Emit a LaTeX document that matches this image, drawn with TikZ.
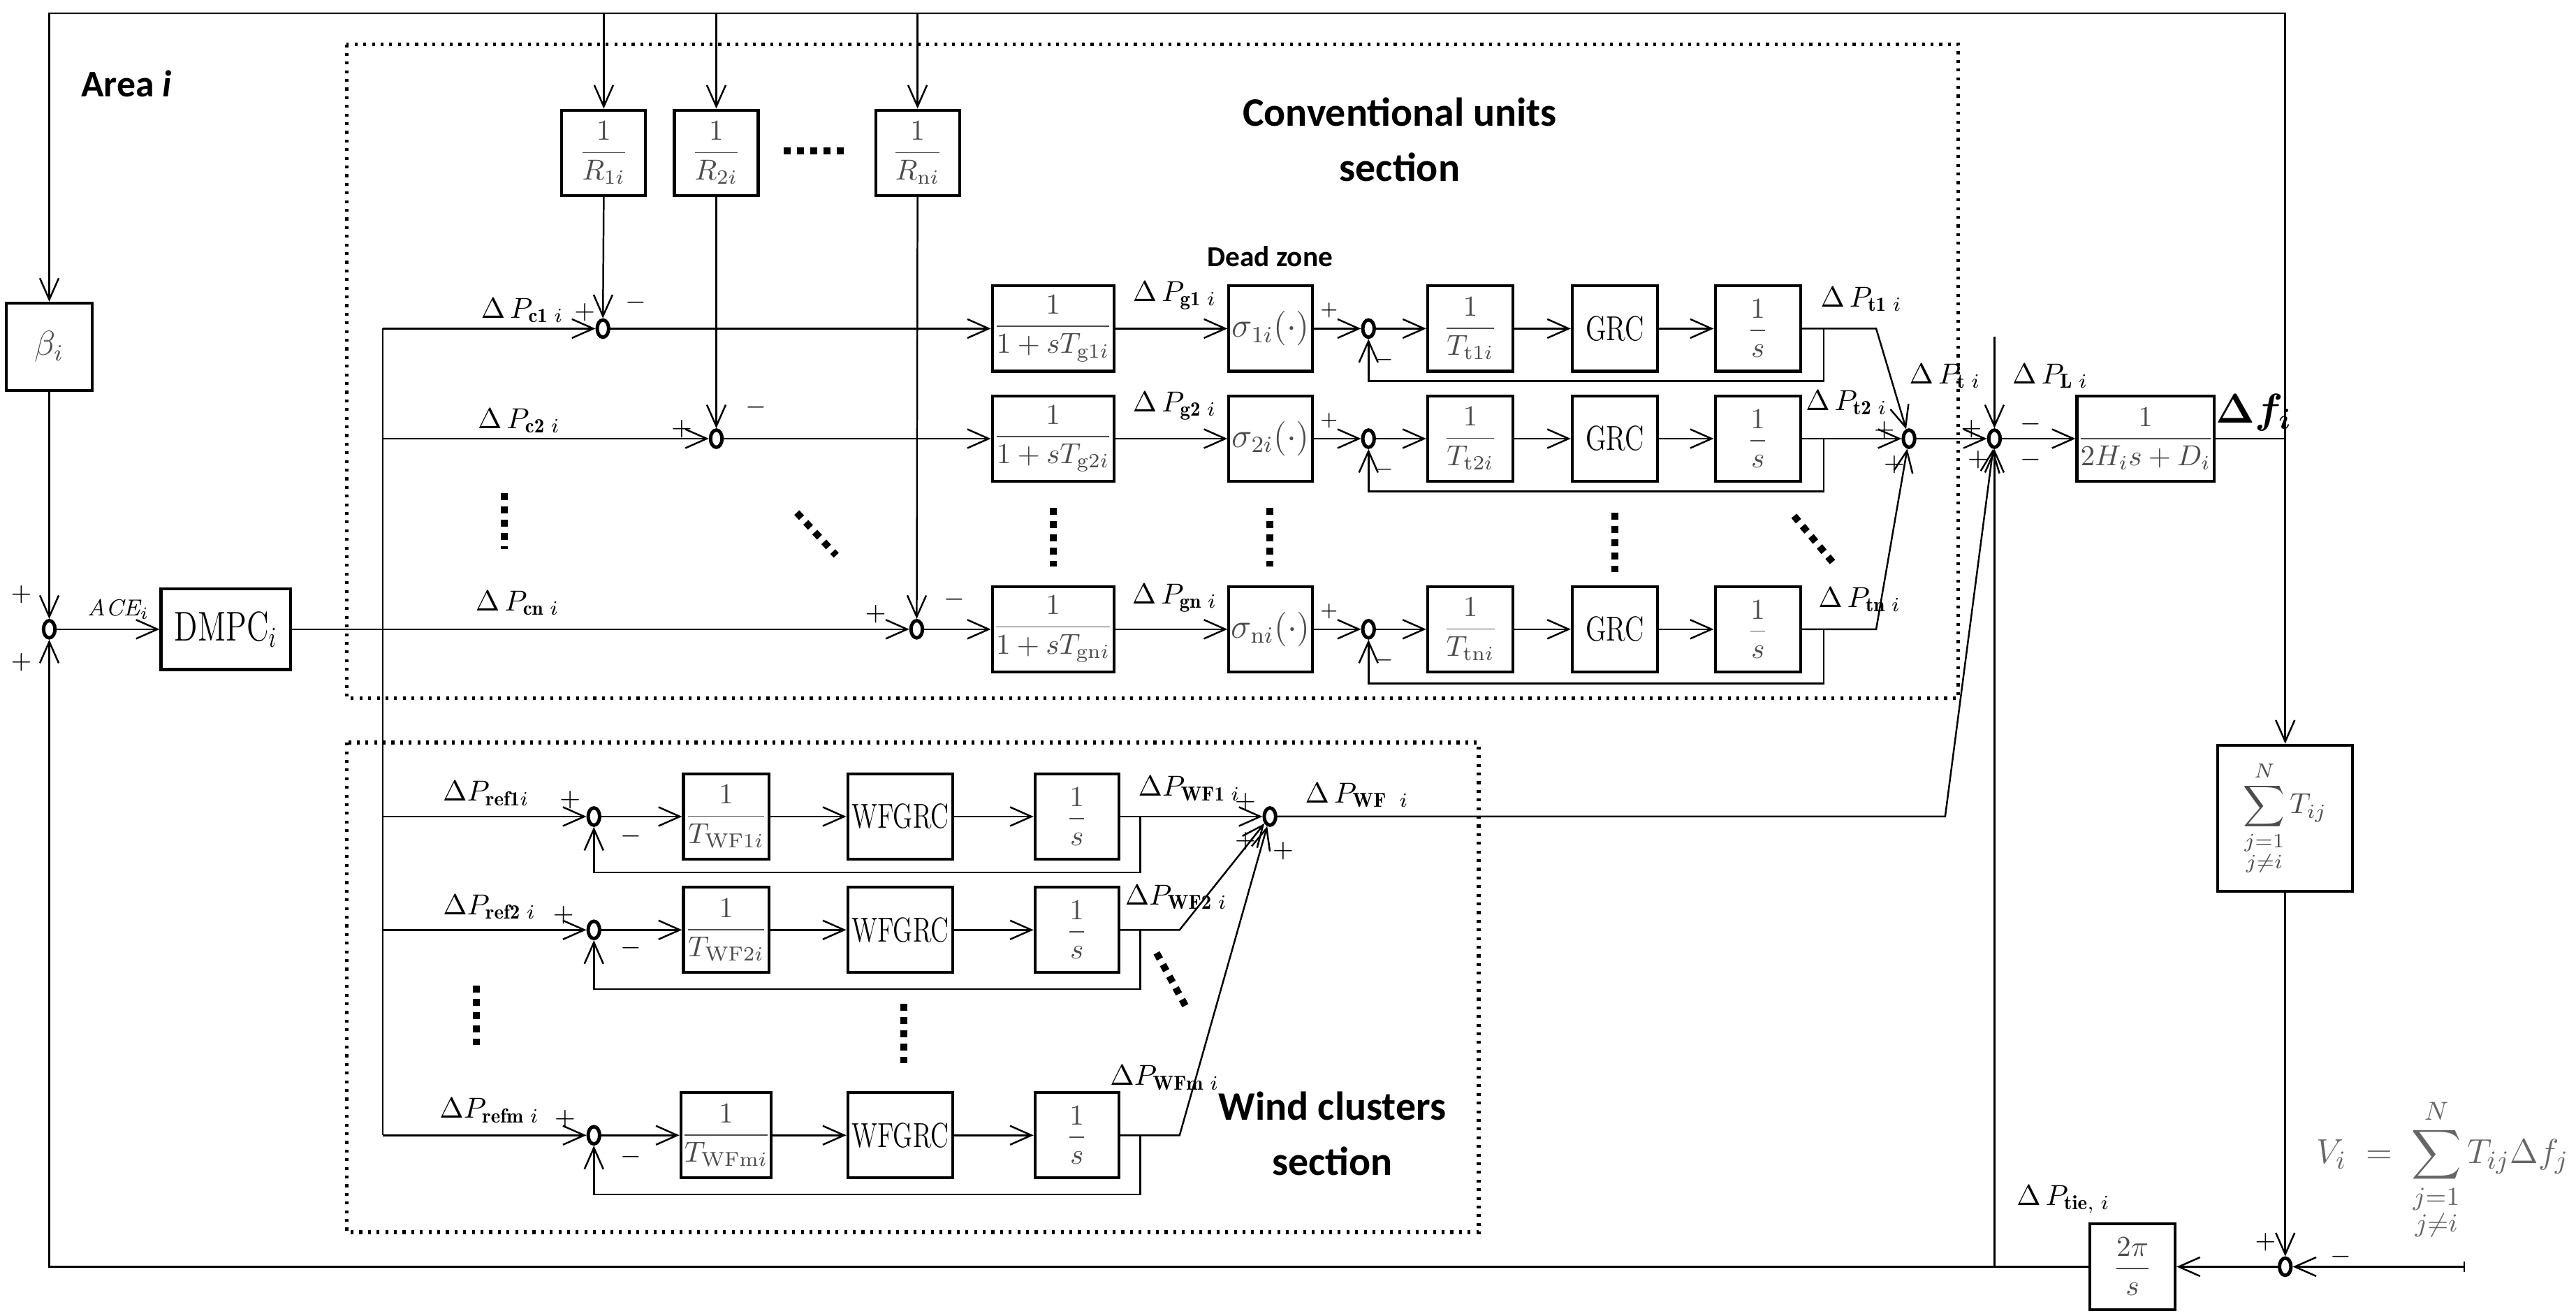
\documentclass[tikz,border=0pt]{standalone}
\usepackage{amsmath}
\usepackage{graphicx}
\usepackage{fontspec}
\newfontfamily\secfont{Carlito}
\usetikzlibrary{shapes.geometric,arrows.meta}

\begin{document}
\begin{tikzpicture}[x=0.02cm,y=-0.02cm,
 >={Straight Barb[length=2.6mm,width=2.3mm]},
 flow/.style={->,line width=0.6pt},
 wire/.style={line width=0.6pt},
 blk/.style={draw,line width=1pt,fill=white,minimum width=1.04cm,minimum height=1.04cm,inner sep=0pt,text=black!70},
 sumj/.style={draw,ellipse,line width=1.2pt,minimum width=0.14cm,minimum height=0.21cm,inner sep=0pt},
 sgn/.style={inner sep=0pt,font=\small},
 lbl/.style={inner sep=0pt},
 area/.style={line width=1.3pt,dash pattern=on 1pt off 2pt},
 dotcol/.style={line width=2.4pt,dash pattern=on 2.4pt off 2.2pt},
 sect/.style={font=\secfont\bfseries\fontsize{14}{19}\selectfont,align=center}]
\useasboundingbox (0,0) rectangle (1568,801);

% section frames
\draw[area] (211,27) rectangle (1192,425);
\draw[area] (211,452) rectangle (900,750);
\node[sect] (convtxt) at (852,85) {Conventional units\\section};
\node[sect] (windtxt) at (811,690) {Wind clusters\\section};
\node[font=\secfont\bfseries\fontsize{13}{15}\selectfont] (areatxt) at (77,51) {Area \textit{i}};
\node[font=\secfont\bfseries\fontsize{10}{12}\selectfont] (dztxt) at (773,156) {Dead zone};

% controller
\node[sumj] (ace) at (30,383) {};
\node[blk,font=\large,minimum height=1.06cm] (beta) at (30,211) {$\beta_i$};
\node[blk,text=black,minimum width=1.58cm,minimum height=0.98cm] (dmpc) at (137.5,383) {\scalebox{0.75}[1]{\Large DMPC$_i$}};
\node[lbl,font=\footnotesize] (acetxt) at (72,371) {$\mathit{ACE}_i$};
\node[sgn] at (13,362) {$+$};
\node[sgn] at (13,403) {$+$};

% droop boxes
\node[blk,minimum width=1.02cm] (r1) at (367.5,93) {$\dfrac{1}{R_{1i}}$};
\node[blk,minimum width=1.02cm] (r2) at (436,93) {$\dfrac{1}{R_{2i}}$};
\node[blk,minimum width=1.02cm] (rn) at (558.5,93) {$\dfrac{1}{R_{\mathrm{n}i}}$};
\draw[dotcol] (477,92) -- (515,92);

% conventional unit 1
\node[sumj] (c1) at (367,200) {};
\node[blk,minimum width=1.48cm] (g1) at (641,200) {$\dfrac{1}{1+sT_{\mathrm{g}1i}}$};
\node[blk,minimum width=1.02cm,font=\large] (dz1) at (773.5,200) {$\sigma_{1i}(\cdot)$};
\node[sumj] (e1) at (833,200) {};
\node[blk] (tt1) at (895,200) {$\dfrac{1}{T_{\mathrm{t}1i}}$};
\node[blk,text=black] (grc1) at (983,200) {\scalebox{0.78}[1]{\large GRC}};
\node[blk] (it1) at (1070,200) {$\dfrac{1}{s}$};
\node[lbl] at (318,189) {$\Delta\, P_{\mathbf{c1}\;i}$};
\node[lbl] at (715,180) {$\Delta\, P_{\mathbf{g1}\;i}$};
\node[lbl] at (1133,182) {$\Delta\, P_{\mathbf{t1}\;i}$};
\node[sgn] at (356,190) {$+$};
\node[sgn] at (387,184) {$-$};
\node[sgn,font=\scriptsize] at (809,189) {$+$};
\node[sgn,font=\scriptsize] at (843,219) {$-$};

% conventional unit 2
\node[sumj] (c2) at (436,267) {};
\node[blk,minimum width=1.48cm] (g2) at (641,267) {$\dfrac{1}{1+sT_{\mathrm{g}2i}}$};
\node[blk,minimum width=1.02cm,font=\large] (dz2) at (773.5,267) {$\sigma_{2i}(\cdot)$};
\node[sumj] (e2) at (833,267) {};
\node[blk] (tt2) at (895,267) {$\dfrac{1}{T_{\mathrm{t}2i}}$};
\node[blk,text=black] (grc2) at (983,267) {\scalebox{0.78}[1]{\large GRC}};
\node[blk] (it2) at (1070,267) {$\dfrac{1}{s}$};
\node[lbl] at (316,256) {$\Delta\, P_{\mathbf{c2}\;i}$};
\node[lbl] at (715,247) {$\Delta\, P_{\mathbf{g2}\;i}$};
\node[lbl] at (1124,245) {$\Delta\, P_{\mathbf{t2}\;i}$};
\node[sgn] at (415,261) {$+$};
\node[sgn] at (460,248) {$-$};
\node[sgn,font=\scriptsize] at (809,256) {$+$};
\node[sgn,font=\scriptsize] at (843,286) {$-$};

% conventional unit n
\node[sumj] (cn) at (558,383) {};
\node[blk,minimum width=1.48cm] (gn) at (641,383) {$\dfrac{1}{1+sT_{\mathrm{gn}i}}$};
\node[blk,minimum width=1.02cm,font=\large] (dzn) at (773.5,383) {$\sigma_{\mathrm{n}i}(\cdot)$};
\node[sumj] (en) at (833,383) {};
\node[blk] (ttn) at (895,383) {$\dfrac{1}{T_{\mathrm{tn}i}}$};
\node[blk,text=black] (grcn) at (983,383) {\scalebox{0.78}[1]{\large GRC}};
\node[blk] (itn) at (1070,383) {$\dfrac{1}{s}$};
\node[lbl] at (315,367) {$\Delta\, P_{\mathbf{cn}\;i}$};
\node[lbl] at (715,364) {$\Delta\, P_{\mathbf{gn}\;i}$};
\node[lbl] at (1132,365) {$\Delta\, P_{\mathbf{tn}\;i}$};
\node[sgn] at (533,374) {$+$};
\node[sgn] at (581,365) {$-$};
\node[sgn,font=\scriptsize] at (809,372) {$+$};
\node[sgn,font=\scriptsize] at (843,402) {$-$};

% dots between units
\draw[dotcol] (307,300) -- (307,334);
\draw[dotcol] (485,312) -- (509,338);
\draw[dotcol] (641,309) -- (641,345);
\draw[dotcol] (773,309) -- (773,345);
\draw[dotcol] (983,312) -- (983,348);
\draw[dotcol] (1092,314) -- (1117,344);

% totals and plant
\node[sumj] (pt) at (1162,267) {};
\node[sumj] (pl) at (1214,267) {};
\node[blk,minimum width=1.48cm] (plant) at (1306,267) {$\dfrac{1}{2H_is+D_i}$};
\node[lbl] at (1184,229) {$\Delta\, P_{\mathbf{t}\;i}$};
\node[lbl] at (1248,229) {$\Delta\, P_{\mathbf{L}\;i}$};
\node[lbl,font=\Large] at (1372,251) {$\boldsymbol{\Delta f_i}$};
\node[sgn] at (1147,262) {$+$};
\node[sgn] at (1153,283) {$+$};
\node[sgn] at (1200,261) {$+$};
\node[sgn] at (1204,280) {$+$};
\node[sgn] at (1236,258) {$-$};
\node[sgn] at (1236,280) {$-$};

% tie line
\node[blk,minimum width=1.64cm,minimum height=1.78cm] (tsum) at (1391,498) {$\displaystyle\sum_{\substack{j=1\\ j\neq i}}^{N} T_{ij}$};
\node[sumj] (tie) at (1391,771) {};
\node[blk] (tpi) at (1298,771) {$\dfrac{2\pi}{s}$};
\node[lbl,anchor=east,font=\fontsize{13}{16}\selectfont,text=black!60] (veq) at (1564,712) {$V_i \;=\; \displaystyle\sum_{\substack{j=1\\ j\neq i}}^{N} T_{ij}\Delta f_j$};
\node[lbl] at (1256,730) {$\Delta\, P_{\mathbf{tie,}\;i}$};
\node[sgn] at (1379,756) {$+$};
\node[sgn] at (1425,765) {$-$};
\coordinate (vin) at (1500,771);

% wind cluster 1
\node[sumj] (w1) at (361.5,497) {};
\node[blk] (wt1) at (442,497) {$\dfrac{1}{T_{\mathrm{WF}1i}}$};
\node[blk,text=black,minimum width=1.28cm] (wg1) at (548,497) {\scalebox{0.74}[1]{\large WFGRC}};
\node[blk,minimum width=1.02cm] (wi1) at (655.5,497) {$\dfrac{1}{s}$};
\node[lbl] at (296,483) {$\Delta P_{\mathbf{ref1}i}$};
\node[lbl] at (724,480) {$\Delta P_{\mathbf{WF1}\;i}$};
\node[sgn] at (347,487) {$+$};
\node[sgn] at (384,509) {$-$};

% wind cluster 2
\node[sumj] (w2) at (361.5,566) {};
\node[blk] (wt2) at (442,566) {$\dfrac{1}{T_{\mathrm{WF}2i}}$};
\node[blk,text=black,minimum width=1.28cm] (wg2) at (548,566) {\scalebox{0.74}[1]{\large WFGRC}};
\node[blk,minimum width=1.02cm] (wi2) at (655.5,566) {$\dfrac{1}{s}$};
\node[lbl] at (298,552) {$\Delta P_{\mathbf{ref2}\;i}$};
\node[lbl] at (716,546) {$\Delta P_{\mathbf{WF2}\;i}$};
\node[sgn] at (343,557) {$+$};
\node[sgn] at (384,577) {$-$};

% wind cluster m
\node[sumj] (wm) at (361.5,691) {};
\node[blk] (wtm) at (442,691) {$\dfrac{1}{T_{\mathrm{WFm}i}}$};
\node[blk,text=black,minimum width=1.28cm] (wgm) at (548,691) {\scalebox{0.74}[1]{\large WFGRC}};
\node[blk,minimum width=1.02cm] (wim) at (655.5,691) {$\dfrac{1}{s}$};
\node[lbl] at (298,676) {$\Delta P_{\mathbf{refm}\;i}$};
\node[lbl] at (709,656) {$\Delta P_{\mathbf{WFm}\;i}$};
\node[sgn] at (344,681) {$+$};
\node[sgn] at (384,704) {$-$};

\draw[dotcol] (290,600) -- (290,636);
\draw[dotcol] (550,611) -- (550,647);
\draw[dotcol] (704,580) -- (722,613);

% wind total
\node[sumj] (wsum) at (773,497) {};
\node[lbl] at (826,484) {$\Delta\, P_{\mathbf{WF}\;\;i}$};
\node[sgn] at (758,488) {$+$};
\node[sgn] at (758,512) {$+$};
\node[sgn] at (781,518) {$+$};

% feedback to beta and droops
\draw[flow] (plant.east) -| (1391,8) -| (beta.north);
\draw[flow] (367.5,8) -- (r1.north);
\draw[flow] (436,8) -- (r2.north);
\draw[flow] (558.5,8) -- (rn.north);
\draw[flow] (r1.south) -- (c1.north);
\draw[flow] (r2.south) -- (c2.north);
\draw[flow] (rn.south) -- (cn.north);
\draw[flow] (beta.south) -- (ace.north);
\draw[flow] (ace.east) -- (dmpc.west);

% distribution bus
\draw[wire] (233,200) -- (233,691);
\draw[flow] (233,200) -- (c1.west);
\draw[flow] (233,267) -- (c2.west);
\draw[flow] (dmpc.east) -- (cn.west);
\draw[flow] (233,497) -- (w1.west);
\draw[flow] (233,566) -- (w2.west);
\draw[flow] (233,691) -- (wm.west);

% unit chains
\draw[flow] (c1) -- (g1);
\draw[flow] (g1) -- (dz1);
\draw[flow] (dz1) -- (e1);
\draw[flow] (e1) -- (tt1);
\draw[flow] (tt1) -- (grc1);
\draw[flow] (grc1) -- (it1);
\draw[flow] (it1.east) -- (1142,200) -- (pt);
\draw[flow] (1110,200) -- (1110,232) -| (e1.south);
\draw[flow] (c2) -- (g2);
\draw[flow] (g2) -- (dz2);
\draw[flow] (dz2) -- (e2);
\draw[flow] (e2) -- (tt2);
\draw[flow] (tt2) -- (grc2);
\draw[flow] (grc2) -- (it2);
\draw[flow] (it2) -- (pt);
\draw[flow] (1110,267) -- (1110,299) -| (e2.south);
\draw[flow] (cn) -- (gn);
\draw[flow] (gn) -- (dzn);
\draw[flow] (dzn) -- (en);
\draw[flow] (en) -- (ttn);
\draw[flow] (ttn) -- (grcn);
\draw[flow] (grcn) -- (itn);
\draw[flow] (itn.east) -- (1142,383) -- (pt);
\draw[flow] (1110,383) -- (1110,416) -| (en.south);

% wind chains
\draw[flow] (w1) -- (wt1);
\draw[flow] (wt1) -- (wg1);
\draw[flow] (wg1) -- (wi1);
\draw[flow] (wi1) -- (wsum);
\draw[flow] (694,497) -- (694,531) -| (w1.south);
\draw[flow] (w2) -- (wt2);
\draw[flow] (wt2) -- (wg2);
\draw[flow] (wg2) -- (wi2);
\draw[flow] (wi2.east) -- (718,566) -- (wsum);
\draw[flow] (694,566) -- (694,602) -| (w2.south);
\draw[flow] (wm) -- (wtm);
\draw[flow] (wtm) -- (wgm);
\draw[flow] (wgm) -- (wim);
\draw[flow] (wim.east) -- (718,691) -- (wsum);
\draw[flow] (694,691) -- (694,727) -| (wm.south);

% area balance
\draw[flow] (wsum) -- (1184,497) -- (pl);
\draw[flow] (pt) -- (pl);
\draw[flow] (1214,205) -- (pl.north);
\draw[flow] (pl) -- (plant);
\draw[flow] (1391,267) -- (tsum.north);
\draw[flow] (tsum.south) -- (tie.north);
\draw[flow] (vin) -- (tie.east);
\draw[wire] (vin) ++(0,-3) -- ++(0,6);
\draw[flow] (tie.west) -- (tpi.east);
\draw[flow] (tpi.west) -- (30,771) -- (ace.south);
\draw[flow] (1214,771) -- (pl.south);
\end{tikzpicture}
\end{document}
